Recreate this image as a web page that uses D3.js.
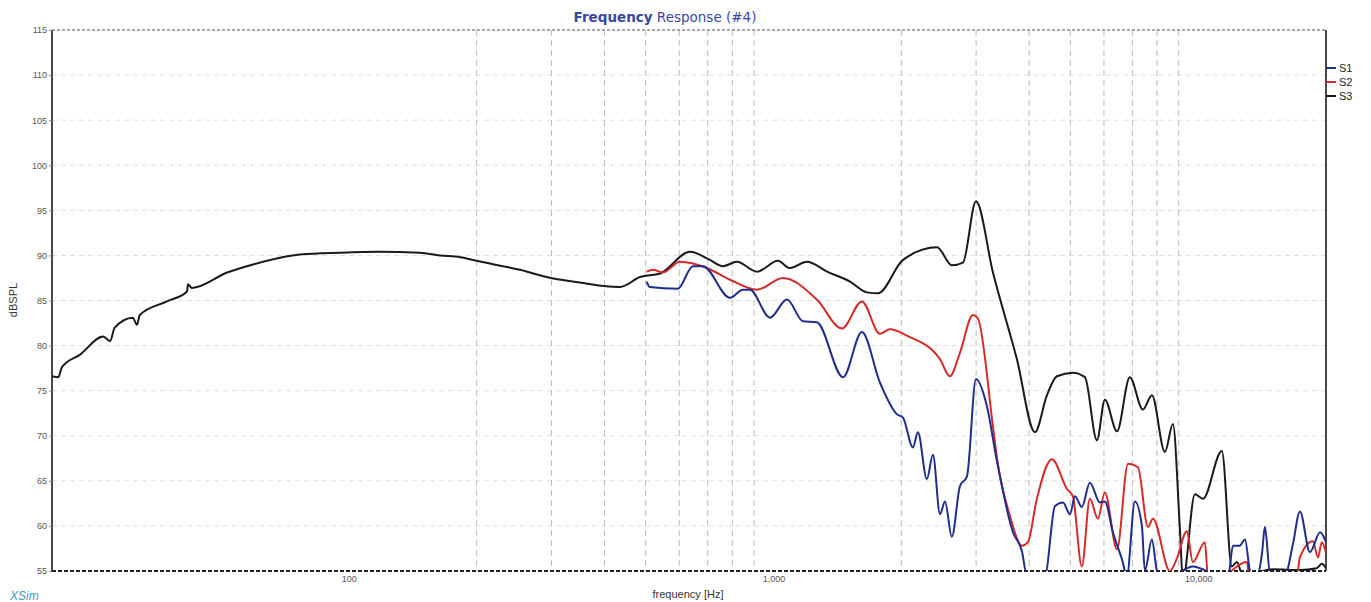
<!DOCTYPE html>
<html>
<head>
<meta charset="utf-8">
<script src="https://cdn.jsdelivr.net/npm/d3@7"></script>
<style>
  body { margin: 0; background: #fff; }
  svg { display: block; font-family: "DejaVu Sans", Verdana, sans-serif; }
</style>
</head>
<body>
<div id="chart"></div>
<script>
// --- data (frequency in Hz, level in dB SPL) ---
var s3Freq = [20, 20.7, 21.1, 23.3, 26.4, 27.4, 28.1, 31, 31.7, 32.2, 37.3, 41.6, 41.8, 42.7, 51.7, 59.5, 76.7, 95.3, 118, 147, 164, 183, 200, 253, 299, 350, 399, 435, 485, 541, 636, 708, 760, 820, 915, 1024, 1093, 1199, 1337, 1514, 1660, 1762, 2018, 2427, 2630, 2793, 2998, 3287, 3742, 4127, 4405, 4649, 5069, 5412, 5776, 6030, 6440, 6904, 7410, 7782, 8350, 8720, 9058, 9206, 9826, 10260, 11370, 12000, 12330, 12740, 15000, 17360, 19000, 19550, 20000];
var s3Level = [76.6, 76.5, 77.6, 79.0, 81.0, 80.5, 82.0, 83.1, 82.3, 83.4, 84.9, 86.0, 86.8, 86.4, 88.1, 89.0, 90.1, 90.3, 90.4, 90.3, 90.0, 89.8, 89.4, 88.4, 87.5, 87.0, 86.6, 86.5, 87.6, 88.0, 90.4, 89.5, 88.8, 89.3, 88.2, 89.4, 88.6, 89.3, 88.2, 87.1, 85.9, 85.8, 89.5, 90.9, 88.9, 89.2, 96.0, 88.1, 78.5, 70.4, 74.5, 76.6, 77.0, 76.5, 69.5, 74.0, 70.5, 76.5, 72.9, 74.5, 68.2, 71.3, 59.6, 54.0, 63.5, 63.0, 68.3, 55.5, 56.0, 54.5, 55.2, 55.1, 55.3, 55.8, 55.3];

var s2Freq = [503, 520, 549, 602, 697, 790, 915, 1052, 1265, 1450, 1615, 1781, 1880, 2062, 2466, 2602, 2748, 2949, 3030, 3287, 3358, 3604, 3846, 3973, 4170, 4525, 4910, 5069, 5322, 5559, 5807, 6030, 6440, 6835, 7215, 7616, 7825, 8580, 8913, 9404, 9716, 10370, 10540, 11000, 13020, 13240, 15000, 17080, 17360, 18630, 19150, 19550, 20000];
var s2Level = [88.2, 88.4, 88.1, 89.3, 88.6, 87.3, 86.2, 87.5, 85.1, 81.9, 84.9, 81.3, 81.8, 81.1, 78.5, 76.6, 79.2, 83.4, 83.0, 71.0, 67.6, 61.1, 57.8, 58.2, 63.0, 67.4, 64.1, 63.3, 55.5, 63.0, 60.8, 63.7, 57.4, 66.9, 66.5, 59.9, 60.8, 55.0, 56.4, 59.4, 56.0, 58.2, 54.5, 54.0, 56.0, 54.0, 54.5, 54.5, 56.5, 58.3, 56.5, 58.2, 57.0];

var s1Freq = [503, 511, 595, 646, 682, 790, 847, 880, 981, 1076, 1173, 1265, 1458, 1615, 1781, 1952, 2018, 2130, 2188, 2297, 2374, 2466, 2534, 2630, 2748, 2855, 2998, 3180, 3358, 3663, 3846, 3950, 4357, 4601, 4805, 4991, 5128, 5322, 5559, 5871, 6030, 6299, 6615, 6796, 7096, 7371, 7491, 7782, 8000, 8350, 9716, 11740, 12080, 12530, 12890, 13240, 13630, 14140, 14360, 14760, 16000, 16720, 17360, 18330, 19370, 20000];
var s1Level = [87.1, 86.5, 86.3, 88.8, 88.8, 85.3, 86.2, 86.2, 83.1, 85.1, 82.7, 82.6, 76.5, 81.5, 75.9, 72.4, 72.0, 68.7, 70.4, 65.2, 67.9, 61.3, 62.7, 58.8, 64.4, 65.5, 76.3, 73.3, 67.2, 59.3, 57.2, 54.5, 54.5, 62.2, 62.6, 61.3, 63.3, 62.1, 64.8, 62.6, 62.7, 59.3, 56.3, 54.5, 62.7, 60.0, 55.0, 58.5, 55.0, 54.0, 55.5, 54.0, 57.8, 57.8, 58.5, 55.0, 54.0, 57.0, 59.9, 54.8, 54.5, 58.0, 61.6, 57.1, 59.3, 58.2];

var seriesNames = ["S1", "S2", "S3"];
var seriesColors = ["#1f2d8c", "#d42b2b", "#1a1a1a"];

var yTicks = [55, 60, 65, 70, 75, 80, 85, 90, 95, 100, 105, 110, 115];
var xLabelTicks = [100, 1000, 10000];
var xGridTicks = [200, 300, 400, 500, 600, 700, 800, 900, 2000, 3000, 4000, 5000, 6000, 7000, 8000, 9000];

var W = 1371, H = 602;
var margin = { top: 30, right: 45, bottom: 31, left: 52 };

var svg = d3.select("#chart").append("svg")
    .attr("width", W)
    .attr("height", H);

var x = d3.scaleLog().domain([20, 20000]).range([margin.left, W - margin.right]);
var y = d3.scaleLinear().domain([55, 115]).range([H - margin.bottom, margin.top]);

// horizontal grid
svg.append("g").selectAll("line")
    .data(yTicks.filter(function(d) { return d > 55 && d < 115; }))
    .enter().append("line")
    .attr("x1", x.range()[0]).attr("x2", x.range()[1])
    .attr("y1", function(d) { return y(d); }).attr("y2", function(d) { return y(d); })
    .style("stroke", "#e0e0e0")
    .style("stroke-width", 1)
    .style("stroke-dasharray", "5,4");

// vertical grid
svg.append("g").selectAll("line")
    .data(xGridTicks)
    .enter().append("line")
    .attr("x1", function(d) { return x(d); }).attr("x2", function(d) { return x(d); })
    .attr("y1", y(115)).attr("y2", y(55))
    .style("stroke", "#bdbdbd")
    .style("stroke-width", 1)
    .style("stroke-dasharray", "6,4");

// frame: dashed top and bottom, solid sides
svg.append("line")
    .attr("x1", x.range()[0]).attr("x2", x.range()[1])
    .attr("y1", y(115)).attr("y2", y(115))
    .style("stroke", "#555").style("stroke-width", 1.2).style("stroke-dasharray", "3,2");
svg.append("line")
    .attr("x1", x.range()[0]).attr("x2", x.range()[1])
    .attr("y1", y(55)).attr("y2", y(55))
    .style("stroke", "#222").style("stroke-width", 1.8).style("stroke-dasharray", "4,2");
svg.append("line")
    .attr("x1", x.range()[0]).attr("x2", x.range()[0])
    .attr("y1", y(115)).attr("y2", y(55))
    .style("stroke", "#333").style("stroke-width", 1.8);
svg.append("line")
    .attr("x1", x.range()[1]).attr("x2", x.range()[1])
    .attr("y1", y(115)).attr("y2", y(55))
    .style("stroke", "#333").style("stroke-width", 1.8);

// y axis
var yAxis = d3.axisLeft(y).tickValues(yTicks).tickSize(3).tickPadding(2);
var gy = svg.append("g")
    .attr("transform", "translate(" + margin.left + ",0)")
    .call(yAxis);
gy.select(".domain").remove();
gy.selectAll("line").style("stroke", "#888");
gy.selectAll("text")
    .style("font-size", "9px")
    .style("fill", "#555")
    .style("font-family", "Arial, 'Liberation Sans', sans-serif");

// x axis labels
var xAxis = d3.axisBottom(x).tickValues(xLabelTicks).tickSize(0).tickPadding(5)
    .tickFormat(d3.format(","));
var gx = svg.append("g")
    .attr("transform", "translate(0," + y(55) + ")")
    .call(xAxis);
gx.select(".domain").remove();
gx.selectAll("text")
    .style("font-size", "9px")
    .style("fill", "#555")
    .style("font-family", "Arial, 'Liberation Sans', sans-serif");

// curves
svg.append("clipPath").attr("id", "plotclip")
    .append("rect")
    .attr("x", x.range()[0]).attr("y", y(115))
    .attr("width", x.range()[1] - x.range()[0])
    .attr("height", y(55) - y(115));

var line = d3.line()
    .x(function(d) { return x(d[0]); })
    .y(function(d) { return y(d[1]); })
    .curve(d3.curveMonotoneX);

var curves = [
    { name: "S3", freq: s3Freq, level: s3Level, color: seriesColors[2] },
    { name: "S2", freq: s2Freq, level: s2Level, color: seriesColors[1] },
    { name: "S1", freq: s1Freq, level: s1Level, color: seriesColors[0] }
];

svg.append("g").attr("clip-path", "url(#plotclip)")
    .selectAll("path")
    .data(curves)
    .enter().append("path")
    .attr("d", function(c) {
        return line(c.freq.map(function(f, i) { return [f, c.level[i]]; }));
    })
    .style("fill", "none")
    .style("stroke", function(c) { return c.color; })
    .style("stroke-width", 2)
    .style("stroke-linejoin", "round");

// legend on the right edge
var legend = svg.append("g").selectAll("g")
    .data(seriesNames)
    .enter().append("g")
    .attr("transform", function(d, i) { return "translate(" + x.range()[1] + "," + (68 + i * 14) + ")"; });
legend.append("line")
    .attr("x1", 0).attr("x2", 10)
    .style("stroke", function(d, i) { return seriesColors[i]; })
    .style("stroke-width", 2);
legend.append("text")
    .attr("x", 13).attr("y", 4)
    .text(function(d) { return d; })
    .style("font-size", "11px")
    .style("fill", "#222")
    .style("font-family", "Arial, 'Liberation Sans', sans-serif");

// title
var title = svg.append("text")
    .attr("x", 665).attr("y", 22)
    .attr("text-anchor", "middle")
    .style("font-size", "13.5px")
    .style("fill", "#3a47a0")
    .style("font-family", "Verdana, 'DejaVu Sans', sans-serif");
title.append("tspan").style("font-weight", "bold").text("Frequency");
title.append("tspan").text(" Response (#4)");

// axis titles
svg.append("text")
    .attr("transform", "translate(17,300) rotate(-90)")
    .attr("text-anchor", "middle")
    .text("dBSPL")
    .style("font-size", "11px")
    .style("fill", "#333")
    .style("font-family", "Arial, 'Liberation Sans', sans-serif");

svg.append("text")
    .attr("x", 688).attr("y", 598)
    .attr("text-anchor", "middle")
    .text("frequency [Hz]")
    .style("font-size", "11px")
    .style("fill", "#333")
    .style("font-family", "Arial, 'Liberation Sans', sans-serif");

svg.append("text")
    .attr("x", 10).attr("y", 600)
    .text("XSim")
    .style("font-size", "12px")
    .style("font-style", "italic")
    .style("fill", "#4a9bb5")
    .style("font-family", "Arial, 'Liberation Sans', sans-serif");
</script>
</body>
</html>
